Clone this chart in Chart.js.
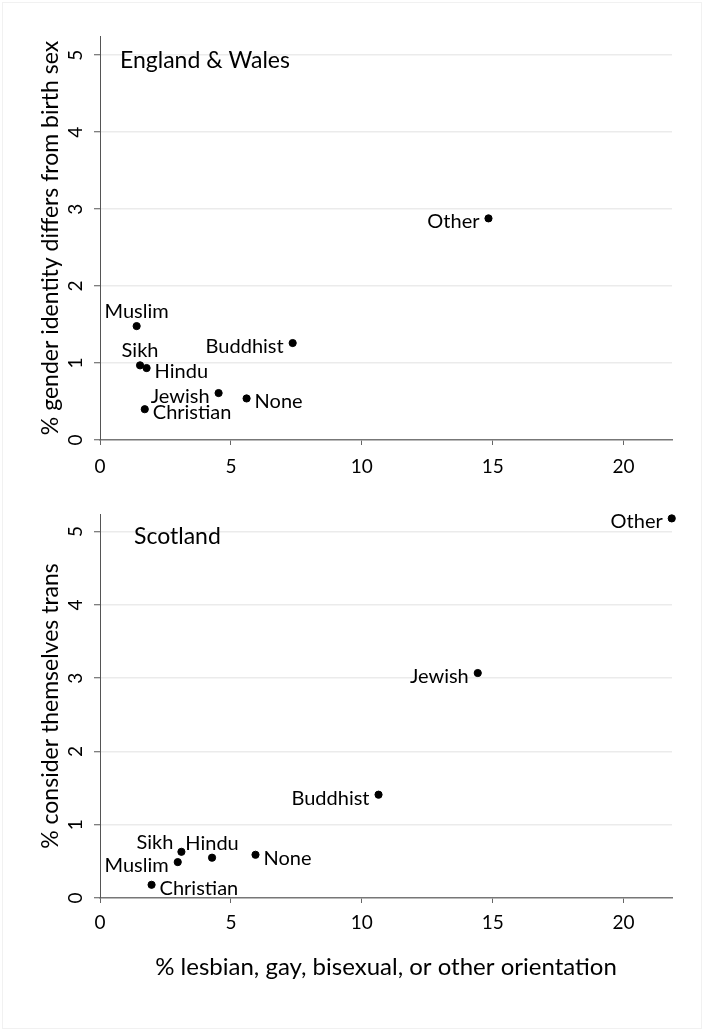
<!DOCTYPE html>
<html>
<head>
<meta charset="utf-8">
<script src="https://cdn.jsdelivr.net/npm/chart.js@4.4.1/dist/chart.umd.min.js"></script>
<style>
  html, body { margin: 0; padding: 0; background: #fff; }
  #wrap { position: relative; width: 709px; height: 1030px; }
  #frame { position: absolute; left: 2px; top: 2px; width: 698px; height: 1025px; border: 1px solid #f1f1f1; }
  .panel { position: absolute; left: 0; }
</style>
</head>
<body>
<div id="wrap">
  <div id="frame"></div>
  <div class="panel" style="top:0"><canvas id="ewChart" width="709" height="480"></canvas></div>
  <div class="panel" style="top:480px"><canvas id="scChart" width="709" height="550"></canvas></div>
</div>
<script>
// Datos
const religions = ['Christian', 'Buddhist', 'Hindu', 'Jewish', 'Muslim', 'Sikh', 'Other', 'None'];

// Inglaterra y Gales
const ewLgb = [1.71, 7.36, 1.78, 4.53, 1.40, 1.53, 14.84, 5.60];
const ewTrans = [0.40, 1.26, 0.935, 0.61, 1.48, 0.97, 2.88, 0.54];

// Escocia
const scLgb = [1.97, 10.64, 4.28, 14.43, 2.97, 3.11, 21.84, 5.94];
const scTrans = [0.18, 1.41, 0.55, 3.07, 0.49, 0.63, 5.18, 0.59];

const yTicks = [0, 1, 2, 3, 4, 5];
const xTicks = [0, 5, 10, 15, 20];

// posición de las etiquetas (reloj, como en Stata)
const ewLabelPos = [3, 9, 3, 9, 12, 12, 9, 3];
const scLabelPos = [3, 9, 12, 9, 9, 11, 9, 3];

const FONT = 'Lato, "Open Sans", sans-serif';

// Etiquetas de los puntos
const pointLabels = {
    id: 'pointLabels',
    afterDatasetsDraw(chart, args, opts) {
        const ctx = chart.ctx;
        const meta = chart.getDatasetMeta(0);
        ctx.save();
        ctx.font = '20px ' + FONT;
        ctx.fillStyle = '#000';
        ctx.textBaseline = 'alphabetic';
        meta.data.forEach((pt, i) => {
            const pos = opts.positions[i];
            let x = pt.x, y = pt.y;
            if (pos === 3) { ctx.textAlign = 'left'; x += 8; y += 10; }
            else if (pos === 9) { ctx.textAlign = 'right'; x -= 9; y += 10; }
            else if (pos === 12) { ctx.textAlign = 'center'; y -= 8; }
            else if (pos === 11) { ctx.textAlign = 'right'; x -= 8; y -= 3; }
            ctx.fillText(religions[i], x, y);
        });
        // titulo del panel
        ctx.font = '23px ' + FONT;
        ctx.textAlign = 'left';
        ctx.fillText(opts.title, chart.chartArea.left + opts.titleDx, chart.chartArea.top + opts.titleDy);
        // etiquetas del eje y, giradas
        const ys = chart.scales.y;
        ctx.font = '19px ' + FONT;
        ctx.textAlign = 'center';
        ctx.textBaseline = 'middle';
        ys.ticks.forEach(t => {
            ctx.save();
            ctx.translate(76, ys.getPixelForValue(t.value));
            ctx.rotate(-Math.PI / 2);
            ctx.fillText(String(t.value), 0, 0);
            ctx.restore();
        });
        ctx.restore();
    }
};

function makeChart(id, xs, ys, cfg) {
    return new Chart(document.getElementById(id), {
        type: 'scatter',
        data: {
            datasets: [{
                data: xs.map((x, i) => ({ x: x, y: ys[i] })),
                backgroundColor: '#000',
                borderColor: '#000',
                pointRadius: 3.6,
                pointHoverRadius: 3.6,
                clip: false
            }]
        },
        options: {
            responsive: false,
            animation: false,
            events: [],
            layout: { padding: { top: cfg.padTop, right: 37, left: 0, bottom: 0 } },
            plugins: {
                legend: { display: false },
                tooltip: { enabled: false },
                pointLabels: { positions: cfg.positions, title: cfg.title, titleDx: cfg.titleDx, titleDy: cfg.titleDy }
            },
            scales: {
                x: {
                    type: 'linear',
                    min: 0,
                    max: 21.85,
                    afterFit: s => { s.height = cfg.xHeight; },
                    afterBuildTicks: s => { s.ticks = xTicks.map(v => ({ value: v })); },
                    ticks: { color: '#000', font: { family: FONT, size: 19 }, padding: cfg.xPad, maxRotation: 0 },
                    grid: { drawOnChartArea: false, drawTicks: true, tickLength: 5, tickColor: '#666', tickWidth: 1 },
                    border: { color: '#777', width: 1.5 },
                    title: {
                        display: !!cfg.xTitle,
                        text: cfg.xTitle || '',
                        color: '#000',
                        font: { family: FONT, size: 24 },
                        padding: { top: 0, bottom: 48 }
                    }
                },
                y: {
                    type: 'linear',
                    min: 0,
                    max: cfg.yMax,
                    afterFit: s => { s.width = 100; },
                    afterBuildTicks: s => { s.ticks = yTicks.map(v => ({ value: v })); },
                    ticks: { display: false },
                    grid: {
                        color: c => (c.tick && c.tick.value === 0) ? 'rgba(0,0,0,0)' : '#ebebeb',
                        lineWidth: 1.5,
                        tickColor: '#555',
                        tickLength: 6,
                        tickWidth: 1
                    },
                    border: { color: '#555', width: 1 },
                    title: {
                        display: true,
                        text: cfg.yTitle,
                        color: '#000',
                        font: { family: FONT, size: 23 },
                        padding: { top: 37, bottom: 0 }
                    }
                }
            }
        },
        plugins: [pointLabels]
    });
}

makeChart('ewChart', ewLgb, ewTrans, {
    padTop: 36, xHeight: 40, xPad: 10, yMax: 5.25,
    yTitle: '% gender identity differs from birth sex',
    positions: ewLabelPos, title: 'England & Wales', titleDx: 20, titleDy: 32
});

makeChart('scChart', scLgb, scTrans, {
    padTop: 34, xHeight: 132, xPad: 8, yMax: 5.24,
    yTitle: '% consider themselves trans',
    xTitle: '% lesbian, gay, bisexual, or other orientation',
    positions: scLabelPos, title: 'Scotland', titleDx: 34, titleDy: 30
});
</script>
</body>
</html>
